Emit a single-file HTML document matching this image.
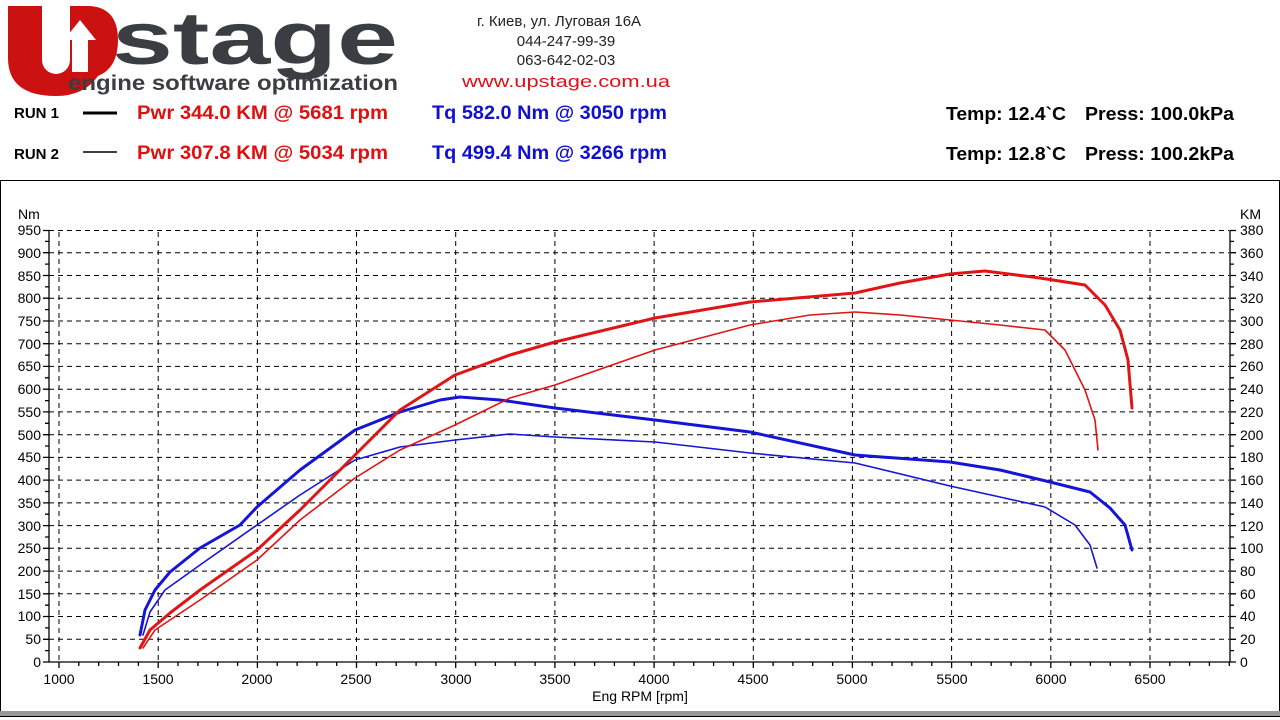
<!DOCTYPE html>
<html><head><meta charset="utf-8"><style>
html,body{margin:0;padding:0;background:#fff;width:1280px;height:720px;overflow:hidden}
svg{display:block}
text{font-family:"Liberation Sans",Arial,sans-serif}
</style></head><body>
<svg width="1280" height="720" viewBox="0 0 1280 720" xmlns="http://www.w3.org/2000/svg">
<!-- logo -->
<path d="M8,6 H42 V60 A14,14 0 0 0 70,60 V6 H90 Q118,8 118,40 Q118,68 98,76 Q84,96 56,96 Q8,96 8,58 Z" fill="#cc1111"/>
<path d="M64,40 L80,20 L96,40 H88 V72 H72 V40 Z" fill="#fff"/>
<text x="112" y="64" font-size="74" font-weight="bold" fill="#3a3d42" textLength="286" lengthAdjust="spacingAndGlyphs">stage</text>
<text x="68" y="90" font-size="21" font-weight="bold" fill="#3a3d42" textLength="330" lengthAdjust="spacingAndGlyphs">engine software optimization</text>
<!-- contacts -->
<text x="559" y="26" font-size="15" fill="#222" text-anchor="middle">г. Киев, ул. Луговая 16А</text>
<text x="566" y="46" font-size="15" fill="#222" text-anchor="middle">044-247-99-39</text>
<text x="566" y="65" font-size="15" fill="#222" text-anchor="middle">063-642-02-03</text>
<text x="462" y="87" font-size="17" fill="#d11" textLength="208" lengthAdjust="spacingAndGlyphs">www.upstage.com.ua</text>
<!-- runs -->
<text x="14" y="118" font-size="15" font-weight="bold" fill="#000">RUN 1</text>
<line x1="83" y1="113" x2="117" y2="113" stroke="#000" stroke-width="3"/>
<text x="14" y="159" font-size="15" font-weight="bold" fill="#000">RUN 2</text>
<line x1="83" y1="152" x2="117" y2="152" stroke="#000" stroke-width="1.5"/>
<text x="137" y="119" font-size="19" font-weight="bold" fill="#e01010" textLength="251" lengthAdjust="spacingAndGlyphs">Pwr  344.0 KM @ 5681 rpm</text>
<text x="137" y="159" font-size="19" font-weight="bold" fill="#e01010" textLength="251" lengthAdjust="spacingAndGlyphs">Pwr  307.8 KM @ 5034 rpm</text>
<text x="432" y="119" font-size="19" font-weight="bold" fill="#1010d0" textLength="235" lengthAdjust="spacingAndGlyphs">Tq 582.0 Nm @ 3050 rpm</text>
<text x="432" y="159" font-size="19" font-weight="bold" fill="#1010d0" textLength="235" lengthAdjust="spacingAndGlyphs">Tq 499.4 Nm @ 3266 rpm</text>
<text x="946" y="120" font-size="18" font-weight="bold" fill="#000" textLength="120" lengthAdjust="spacingAndGlyphs">Temp: 12.4`C</text>
<text x="1085" y="120" font-size="18" font-weight="bold" fill="#000" textLength="149" lengthAdjust="spacingAndGlyphs">Press: 100.0kPa</text>
<text x="946" y="160" font-size="18" font-weight="bold" fill="#000" textLength="120" lengthAdjust="spacingAndGlyphs">Temp: 12.8`C</text>
<text x="1085" y="160" font-size="18" font-weight="bold" fill="#000" textLength="149" lengthAdjust="spacingAndGlyphs">Press: 100.2kPa</text>
<!-- frame -->
<rect x="0.5" y="180.5" width="1279" height="531" fill="#fff" stroke="#000"/>
<rect x="0" y="711" width="1280" height="5" fill="#999"/>
<line x1="0" y1="716.5" x2="1280" y2="716.5" stroke="#000"/>
<!-- grid -->
<g stroke="#000" stroke-width="1" stroke-dasharray="5,4" fill="none">
<path d="M49,639.3H1229M49,616.5H1229M49,593.8H1229M49,571.1H1229M49,548.3H1229M49,525.6H1229M49,502.9H1229M49,480.1H1229M49,457.4H1229M49,434.7H1229M49,411.9H1229M49,389.2H1229M49,366.4H1229M49,343.7H1229M49,321H1229M49,298.2H1229M49,275.5H1229M49,252.7H1229M49,230.5H1229"/>
<path d="M59,232V662M158.2,232V662M257.4,232V662M356.5,232V662M455.7,232V662M554.9,232V662M654.1,232V662M753.3,232V662M852.4,232V662M951.6,232V662M1050.8,232V662M1150,232V662"/>
</g>
<!-- axes -->
<g stroke="#000" stroke-width="1.3" fill="none">
<path d="M49,230V662H1230V230"/>
<path d="M43,662H49M43,639.3H49M43,616.5H49M43,593.8H49M43,571.1H49M43,548.3H49M43,525.6H49M43,502.9H49M43,480.1H49M43,457.4H49M43,434.7H49M43,411.9H49M43,389.2H49M43,366.4H49M43,343.7H49M43,321H49M43,298.2H49M43,275.5H49M43,252.7H49M43,230.5H49"/>
<path d="M45,650.6H49M45,627.9H49M45,605.2H49M45,582.4H49M45,559.7H49M45,537H49M45,514.2H49M45,491.5H49M45,468.8H49M45,446H49M45,423.3H49M45,400.6H49M45,377.8H49M45,355.1H49M45,332.4H49M45,309.6H49M45,286.9H49M45,264.1H49M45,241.4H49"/>
<path d="M1230,662H1236M1230,639.3H1236M1230,616.5H1236M1230,593.8H1236M1230,571.1H1236M1230,548.3H1236M1230,525.6H1236M1230,502.9H1236M1230,480.1H1236M1230,457.4H1236M1230,434.7H1236M1230,411.9H1236M1230,389.2H1236M1230,366.4H1236M1230,343.7H1236M1230,321H1236M1230,298.2H1236M1230,275.5H1236M1230,252.7H1236M1230,230.5H1236"/>
<path d="M1230,650.6H1234M1230,627.9H1234M1230,605.2H1234M1230,582.4H1234M1230,559.7H1234M1230,537H1234M1230,514.2H1234M1230,491.5H1234M1230,468.8H1234M1230,446H1234M1230,423.3H1234M1230,400.6H1234M1230,377.8H1234M1230,355.1H1234M1230,332.4H1234M1230,309.6H1234M1230,286.9H1234M1230,264.1H1234M1230,241.4H1234"/>
<path d="M59,662v6M158.2,662v6M257.4,662v6M356.5,662v6M455.7,662v6M554.9,662v6M654.1,662v6M753.3,662v6M852.4,662v6M951.6,662v6M1050.8,662v6M1150,662v6"/>
<path d="M78.8,662v4M98.7,662v4M118.5,662v4M138.4,662v4M178,662v4M197.9,662v4M217.7,662v4M237.6,662v4M277.2,662v4M297.1,662v4M316.9,662v4M336.7,662v4M376.4,662v4M396.2,662v4M416.1,662v4M435.9,662v4M475.5,662v4M495.4,662v4M515.2,662v4M535.1,662v4M574.7,662v4M594.6,662v4M614.4,662v4M634.2,662v4M673.9,662v4M693.7,662v4M713.6,662v4M733.4,662v4M773.1,662v4M792.9,662v4M812.7,662v4M832.6,662v4M872.2,662v4M892.1,662v4M911.9,662v4M931.8,662v4M971.4,662v4M991.2,662v4M1011.1,662v4M1030.9,662v4M1070.6,662v4M1090.4,662v4M1110.3,662v4M1130.1,662v4M1169.8,662v4M1189.6,662v4M1209.4,662v4M1229.3,662v4"/>
</g>
<g font-size="14" fill="#000" text-anchor="end">
<text x="41" y="667">0</text><text x="41" y="644">50</text><text x="41" y="621">100</text><text x="41" y="599">150</text><text x="41" y="576">200</text><text x="41" y="553">250</text><text x="41" y="531">300</text><text x="41" y="508">350</text><text x="41" y="485">400</text><text x="41" y="462">450</text><text x="41" y="440">500</text><text x="41" y="417">550</text><text x="41" y="394">600</text><text x="41" y="371">650</text><text x="41" y="349">700</text><text x="41" y="326">750</text><text x="41" y="303">800</text><text x="41" y="281">850</text><text x="41" y="258">900</text><text x="41" y="235">950</text>
</g>
<g font-size="14" fill="#000">
<text x="18" y="219">Nm</text><text x="1240" y="219">KM</text>
<text x="1240" y="667">0</text><text x="1240" y="644">20</text><text x="1240" y="621">40</text><text x="1240" y="599">60</text><text x="1240" y="576">80</text><text x="1240" y="553">100</text><text x="1240" y="531">120</text><text x="1240" y="508">140</text><text x="1240" y="485">160</text><text x="1240" y="462">180</text><text x="1240" y="440">200</text><text x="1240" y="417">220</text><text x="1240" y="394">240</text><text x="1240" y="371">260</text><text x="1240" y="349">280</text><text x="1240" y="326">300</text><text x="1240" y="303">320</text><text x="1240" y="281">340</text><text x="1240" y="258">360</text><text x="1240" y="235">380</text>
</g>
<g font-size="14" fill="#000" text-anchor="middle">
<text x="59" y="684">1000</text><text x="158" y="684">1500</text><text x="257" y="684">2000</text><text x="356" y="684">2500</text><text x="456" y="684">3000</text><text x="555" y="684">3500</text><text x="654" y="684">4000</text><text x="753" y="684">4500</text><text x="852" y="684">5000</text><text x="952" y="684">5500</text><text x="1051" y="684">6000</text><text x="1150" y="684">6500</text>
<text x="640" y="701">Eng RPM [rpm]</text>
</g>
<!-- curves -->
<g fill="none" stroke-linejoin="round" stroke-linecap="round">
<polyline stroke="#1515d5" stroke-width="3" points="140,635 145,610 155,590 170,572 200,548 240,525 257,507 300,470 355,430 400,412 440,400 460,397 500,400 555,408 655,420 750,432 855,455 950,462 1000,470 1050,482 1090,492 1110,508 1125,525 1132,550"/>
<polyline stroke="#1515d5" stroke-width="1.6" points="143,635 150,612 165,590 200,565 257,525 300,495 355,460 400,447 455,440 510,434 555,437 655,442 750,453 855,463 950,486 1000,497 1045,507 1075,525 1090,545 1097,568"/>
<polyline stroke="#e01515" stroke-width="3" points="140,648 150,630 170,613 200,590 257,550 300,510 355,455 400,410 455,375 510,355 555,342 655,318 750,302 855,293 900,283 950,274 985,271 1040,278 1085,285 1105,305 1120,330 1128,360 1132,408"/>
<polyline stroke="#e01515" stroke-width="1.6" points="143,648 155,630 200,600 257,560 300,520 355,478 400,450 455,425 510,398 555,385 655,350 750,325 810,315 855,312 900,315 950,320 1000,325 1045,330 1065,350 1085,390 1095,420 1098,450"/>
</g>
</svg>
</body></html>
